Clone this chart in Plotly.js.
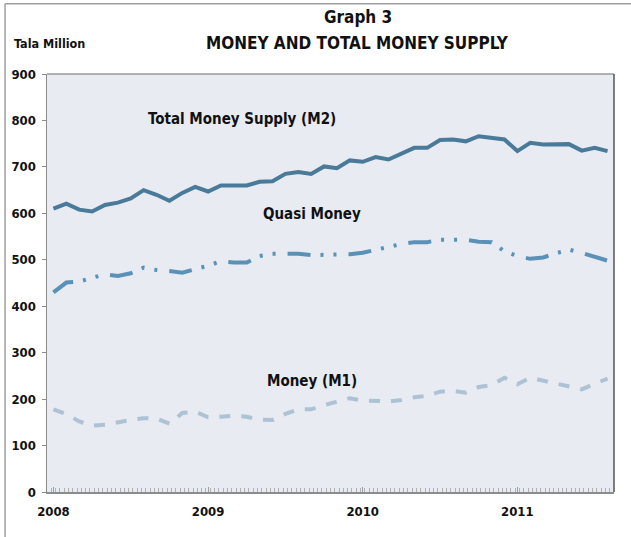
<!DOCTYPE html>
<html>
<head>
<meta charset="utf-8">
<script src="https://cdn.plot.ly/plotly-3.0.1.min.js"></script>
<style>
  html, body { margin: 0; padding: 0; background: #ffffff; }
  #chart { width: 631px; height: 537px; }
</style>
</head>
<body>
<div id="chart"></div>
<script>
// Monthly observations, Jan 2008 - Aug 2011 (tala million)
const months = [
  '2008-01', '2008-02', '2008-03', '2008-04', '2008-05', '2008-06',
  '2008-07', '2008-08', '2008-09', '2008-10', '2008-11', '2008-12',
  '2009-01', '2009-02', '2009-03', '2009-04', '2009-05', '2009-06',
  '2009-07', '2009-08', '2009-09', '2009-10', '2009-11', '2009-12',
  '2010-01', '2010-02', '2010-03', '2010-04', '2010-05', '2010-06',
  '2010-07', '2010-08', '2010-09', '2010-10', '2010-11', '2010-12',
  '2011-01', '2011-02', '2011-03', '2011-04', '2011-05', '2011-06',
  '2011-07', '2011-08',
];

const totalMoneySupply = [
  610, 621, 608, 604, 618, 623, 632, 650, 640, 627, 644, 657,
  647, 660, 660, 660, 668, 669, 685, 689, 685, 701, 697, 714,
  711, 721, 716, 728, 741, 741, 758, 759, 755, 766, 763, 759,
  734, 752, 748, 749, 749, 735, 741, 734,
];

const quasiMoney = [
  430, 451, 453, 461, 469, 465, 471, 483, 478, 476, 472, 480,
  487, 497, 494, 494, 508, 513, 513, 513, 510, 510, 510, 512,
  515, 522, 527, 534, 538, 538, 543, 543, 543, 539, 538, 518,
  508, 502, 505, 514, 522, 515, 507, 498,
];

const moneyM1 = [
  178, 168, 152, 143, 145, 151, 155, 159, 158, 147, 170, 173,
  161, 162, 164, 162, 156, 155, 168, 178, 178, 187, 195, 202,
  197, 196, 195, 198, 204, 207, 216, 218, 214, 226, 230, 246,
  232, 246, 240, 234, 226, 221, 233, 244,
];

const seriesNames = ['Total Money Supply (M2)', 'Quasi Money', 'Money (M1)'];
const yearLabels = ['2008', '2009', '2010', '2011'];

const FONT = "'Liberation Sans Narrow', 'DejaVu Sans Condensed', 'Liberation Sans', sans-serif";

// equal spacing per month, like a category axis
const xIdx = months.map((m, i) => i);
const yearTicks = yearLabels.map(y => months.indexOf(y + '-01'));

const traces = [
  {
    x: xIdx,
    y: totalMoneySupply,
    type: 'scatter',
    mode: 'lines',
    name: seriesNames[0],
    line: { color: '#4a7a99', width: 4 },
  },
  {
    x: xIdx,
    y: quasiMoney,
    type: 'scatter',
    mode: 'lines',
    name: seriesNames[1],
    line: { color: '#5a91b7', width: 4, dash: '23px,10px,3px,10px,3px,12px' },
  },
  {
    x: xIdx,
    y: moneyM1,
    type: 'scatter',
    mode: 'lines',
    name: seriesNames[2],
    line: { color: '#adc3d5', width: 4, dash: '11px,11px' },
  },
];

const labelFont = { family: FONT, size: 15, color: '#111111', weight: 'bold' };
const tickFont = { family: FONT, size: 13, color: '#111111', weight: 'bold' };

const layout = {
  width: 631,
  height: 537,
  showlegend: false,
  paper_bgcolor: '#ffffff',
  plot_bgcolor: '#e8ebf1',
  font: { family: FONT, color: '#111111' },
  margin: { l: 47, r: 17, t: 74, b: 45 },
  xaxis: {
    range: [-0.5, 43.5],
    tickvals: yearTicks,
    ticktext: yearLabels,
    ticks: 'inside',
    ticklen: 5,
    tickcolor: '#a0a0a0',
    minor: { ticks: 'inside', ticklen: 4, dtick: 1 / 3, tick0: -0.5, tickcolor: '#b0b0b0', showgrid: false },
    ticklabelstandoff: 7,
    tickfont: tickFont,
    showgrid: false,
    zeroline: false,
    showline: true,
    linecolor: '#8c8c8c',
    linewidth: 1.5,
  },
  yaxis: {
    range: [0, 900],
    dtick: 100,
    ticks: 'outside',
    ticklen: 4,
    tickcolor: '#8c8c8c',
    ticklabelstandoff: 3,
    tickfont: tickFont,
    showgrid: false,
    zeroline: false,
    showline: true,
    linecolor: '#8c8c8c',
    linewidth: 1.5,
  },
  shapes: [
    // plot frame: top light, right darker
    { type: 'line', xref: 'paper', yref: 'paper', x0: 0, x1: 1, y0: 1, y1: 1, line: { color: '#9a9a9a', width: 1.5 } },
    { type: 'line', xref: 'paper', yref: 'paper', x0: 1, x1: 1, y0: 0, y1: 1, line: { color: '#555555', width: 1.5 } },
    // outer border of the figure (top and left)
    { type: 'line', xref: 'paper', yref: 'paper', x0: -0.074, x1: 1.04, y0: 1.168, y1: 1.168, line: { color: '#a0a0a0', width: 1.5 } },
    { type: 'line', xref: 'paper', yref: 'paper', x0: -0.074, x1: -0.074, y0: -0.11, y1: 1.168, line: { color: '#a0a0a0', width: 1.5 } },
  ],
  annotations: [
    {
      text: 'Graph 3', xref: 'paper', yref: 'paper', x: 0.548, y: 1.136,
      xanchor: 'center', yanchor: 'middle', showarrow: false,
      font: { family: FONT, size: 17, color: '#111111', weight: 'bold' },
    },
    {
      text: 'MONEY AND TOTAL MONEY SUPPLY', xref: 'paper', yref: 'paper', x: 0.548, y: 1.073,
      xanchor: 'center', yanchor: 'middle', showarrow: false,
      font: { family: FONT, size: 17, color: '#111111', weight: 'bold' },
    },
    {
      text: 'Tala Million', xref: 'paper', yref: 'paper', x: -0.062, y: 1.073,
      xanchor: 'left', yanchor: 'middle', showarrow: false,
      font: { family: FONT, size: 12.5, color: '#111111', weight: 'bold' },
    },
    {
      text: seriesNames[0], xref: 'x', yref: 'y', x: 14.6, y: 803,
      xanchor: 'center', yanchor: 'middle', showarrow: false, font: labelFont,
    },
    {
      text: seriesNames[1], xref: 'x', yref: 'y', x: 20.1, y: 599,
      xanchor: 'center', yanchor: 'middle', showarrow: false, font: labelFont,
    },
    {
      text: seriesNames[2], xref: 'x', yref: 'y', x: 20.1, y: 238,
      xanchor: 'center', yanchor: 'middle', showarrow: false, font: labelFont,
    },
  ],
};

Plotly.newPlot('chart', traces, layout, { displayModeBar: false, staticPlot: true });
</script>
</body>
</html>
